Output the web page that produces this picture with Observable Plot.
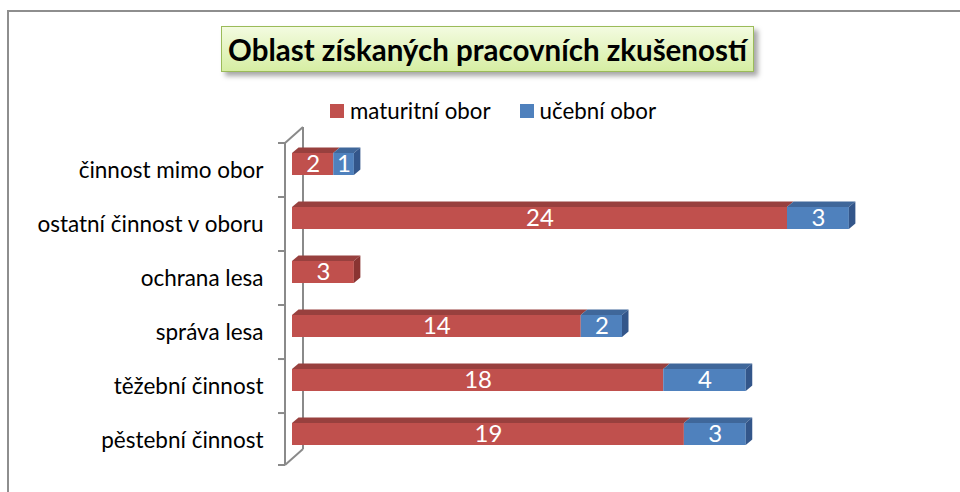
<!DOCTYPE html>
<html><head><meta charset="utf-8">
<script src="https://cdn.jsdelivr.net/npm/d3@7"></script>
<script src="https://cdn.jsdelivr.net/npm/@observablehq/plot@0.6"></script>
<style>
body{margin:0;background:#fff;font-family:Lato,"Open Sans",sans-serif;}
#wrap{position:relative;width:960px;height:492px;overflow:hidden;background:#fff;}
#wrap svg{position:absolute;left:0;top:0;}
#frame{position:absolute;left:7px;top:10px;width:1000px;height:520px;border-left:2px solid #8e8e8e;border-top:2px solid #8e8e8e;}
#title{position:absolute;left:221px;top:26px;width:531px;height:44px;border:1.5px solid #9bbb59;background:linear-gradient(#f3fbe0,#d6eea3);box-shadow:4px 4px 5px rgba(0,0,0,0.35);font-weight:bold;font-size:29.5px;color:#000;display:flex;align-items:center;justify-content:center;white-space:nowrap;}
#legend{position:absolute;top:97px;left:330px;font-size:22.3px;color:#000;display:flex;align-items:center;white-space:nowrap;}
#legend .sw{display:inline-block;width:14px;height:14px;margin-right:6px;}
#legend .item{display:flex;align-items:center;margin-right:29px;}
</style></head>
<body>
<div id="wrap">
  <div id="frame"></div>
</div>
<script>
const categories = ["činnost mimo obor", "ostatní činnost v oboru", "ochrana lesa", "správa lesa", "těžební činnost", "pěstební činnost"];
const maturitni = [2, 24, 3, 14, 18, 19];
const ucebni = [1, 3, 0, 2, 4, 3];
const series = ["maturitní obor", "učební obor"];
const colors = ["#C0504D", "#4F81BD"];
const topColors = ["#98403e", "#3f679a"];
const sideColors = ["#8a3432", "#33568a"];
const titleText = "Oblast získaných pracovních zkušeností";

const rows = [];
categories.forEach((c, i) => {
  [maturitni[i], ucebni[i]].forEach((v, j) => {
    if (v > 0) rows.push({category: c, series: series[j], value: v, si: j});
  });
});

const pxPerUnit = 20.625;
const plot = Plot.plot({
  width: 960, height: 492,
  marginLeft: 285, marginTop: 143, marginBottom: 25, marginRight: 20,
  x: {domain: [0, 30], range: [292, 292 + 30 * pxPerUnit], axis: null},
  y: {domain: categories, paddingInner: 0.593, paddingOuter: 0.296, label: null, tickSize: 0, tickPadding: 22},
  color: {domain: series, range: colors},
  style: {fontFamily: "Lato, sans-serif", fontSize: "22.5px", color: "#000", background: "transparent"},
  marks: [
    Plot.barX(rows, Plot.stackX({x: "value", y: "category", fill: "series", dy: -6})),
    Plot.text(rows, Plot.stackX({x: "value", y: "category", z: "series", text: "value", fill: "white", fontSize: 24, dy: -6}))
  ]
});

// 3D decoration using the plot's own scales
const sx = plot.scale("x"), sy = plot.scale("y");
const X = d3.scaleLinear(sx.domain, sx.range);
const Y = d3.scaleBand(sy.domain, sy.range).paddingInner(sy.paddingInner ?? 0.593).paddingOuter(sy.paddingOuter ?? 0.296).align(sy.align ?? 0.5);
const [r0, r1] = Y.range();
const step = Y.step();
const back = d3.create("svg:g");
const frontX = X(0) - 7, depthX = 18, depthY = -16;
const gray = "#8a8a8a";
back.append("line").attr("x1", frontX + depthX).attr("x2", frontX + depthX).attr("y1", r0 + depthY).attr("y2", r1 + depthY - 2).attr("stroke", gray).attr("stroke-width", 2);
back.append("line").attr("x1", frontX).attr("x2", frontX).attr("y1", r0).attr("y2", r1 - 2).attr("stroke", gray).attr("stroke-width", 2);
[r0, r1 - 2].forEach(yy => back.append("line").attr("x1", frontX).attr("y1", yy).attr("x2", frontX + depthX).attr("y2", yy + depthY).attr("stroke", gray).attr("stroke-width", 2));
d3.range(categories.length + 1).forEach(k => {
  const yy = Math.min(r0 + k * step, r1 - 2);
  back.append("line").attr("x1", frontX - 7).attr("x2", frontX).attr("y1", yy).attr("y2", yy).attr("stroke", gray).attr("stroke-width", 2);
});
plot.insertBefore(back.node(), plot.querySelector("g"));

const faces = d3.create("svg:g");
const dxD = 6.5, dyD = 5.5;
categories.forEach((c, i) => {
  const vals = [maturitni[i], ucebni[i]];
  let acc = 0, lastIdx = -1, lastX2 = 0;
  const yTop = Y(c) - 6, yBot = yTop + Y.bandwidth();
  vals.forEach((v, j) => {
    if (v <= 0) return;
    const a = X(acc), b = X(acc + v);
    faces.append("path").attr("d", `M${a},${yTop}L${b},${yTop}L${b + dxD},${yTop - dyD}L${a + dxD},${yTop - dyD}Z`).attr("fill", topColors[j]);
    acc += v; lastIdx = j; lastX2 = b;
  });
  if (lastIdx >= 0) {
    const b = lastX2;
    faces.append("path").attr("d", `M${b},${yTop}L${b + dxD},${yTop - dyD}L${b + dxD},${yBot - dyD}L${b},${yBot}Z`).attr("fill", sideColors[lastIdx]);
  }
});
plot.appendChild(faces.node());

const wrap = document.getElementById("wrap");
wrap.insertBefore(plot, wrap.firstChild);

const title = document.createElement("div");
title.id = "title"; title.textContent = titleText;
wrap.appendChild(title);

const legend = document.createElement("div");
legend.id = "legend";
series.forEach((s, j) => {
  const it = document.createElement("span"); it.className = "item";
  const sw = document.createElement("span"); sw.className = "sw"; sw.style.background = colors[j];
  it.appendChild(sw); it.appendChild(document.createTextNode(s));
  legend.appendChild(it);
});
wrap.appendChild(legend);
</script>
</body></html>
